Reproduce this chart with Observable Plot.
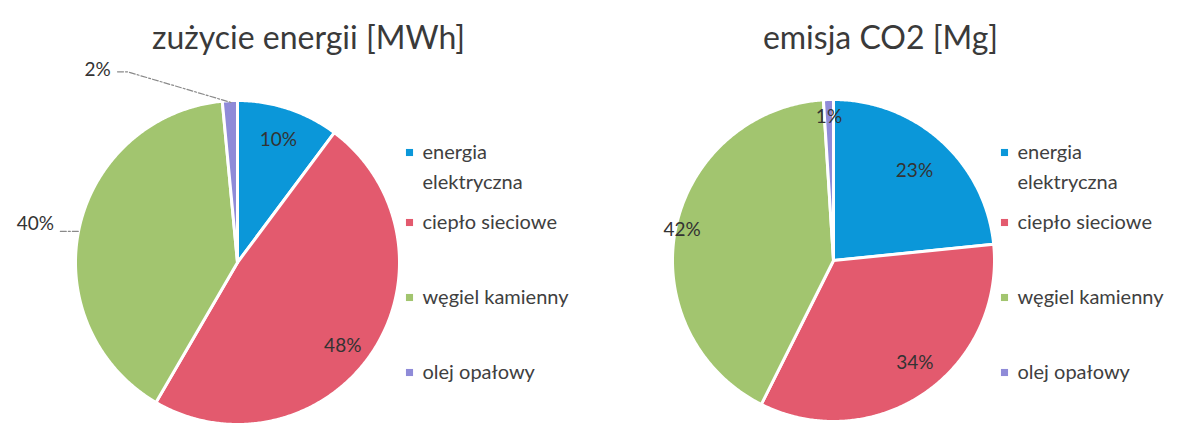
<!DOCTYPE html>
<html>
<head>
<meta charset="utf-8">
<script src="https://cdn.jsdelivr.net/npm/d3@7"></script>
<script src="https://cdn.jsdelivr.net/npm/@observablehq/plot@0.6"></script>
<style>
  html, body { margin: 0; padding: 0; background: #ffffff; }
</style>
</head>
<body>
<div id="chart"></div>
<script>
// ---- data ----
const categories = ["energia elektryczna", "ciepło sieciowe", "węgiel kamienny", "olej opałowy"];
const legendLines = [["energia", "elektryczna"], ["ciepło sieciowe"], ["węgiel kamienny"], ["olej opałowy"]];
const energyShares = [10.2, 48.2, 40.1, 1.5];
const co2Shares = [23.4, 34.0, 41.6, 1.0];
const energyLabels = ["10%", "48%", "40%", "2%"];
const co2Labels = ["23%", "34%", "42%", "1%"];
const titles = ["zużycie energii [MWh]", "emisja CO2 [Mg]"];
const colors = ["#0b97d9", "#e35a6e", "#a2c56f", "#8f8bd8"];

// ---- layout ----
const pies = [
  { cx: 237, cy: 262, r: 162, titleX: 308, legendX: 409,
    values: energyShares, labels: energyLabels, title: titles[0],
    labelPos: [{f: 0.80}, {f: 0.83, da: 5}, {f: 1.27, angle: 280.7, outside: true}, {f: 1.47, angle: 324, outside: true, elbow: true}] },
  { cx: 833, cy: 260, r: 161, titleX: 880, legendX: 1004,
    values: co2Shares, labels: co2Labels, title: titles[1],
    labelPos: [{f: 0.75}, {f: 0.81, da: -4}, {f: 0.96}, {f: 0.89, da: 0}] }
];
const legendY = [152, 222, 297, 372];
const lineGap = 30;

const polar = (p, a, rr) => [p.cx + rr * Math.sin(a), p.cy - rr * Math.cos(a)];
const rad = (deg) => deg * Math.PI / 180;

const slicePts = [];
const labelRows = [];
const leaderPts = [];
const legendDots = [];
const legendText = [];
const titleRows = [];

pies.forEach((p, pi) => {
  const arcs = d3.pie().sort(null).value(d => d)(p.values);
  arcs.forEach((a, i) => {
    const key = pi + "-" + i;
    slicePts.push({key, cat: categories[i], x: p.cx, y: p.cy});
    const steps = Math.max(2, Math.ceil((a.endAngle - a.startAngle) / rad(0.5)));
    for (let s = 0; s <= steps; s++) {
      const t = a.startAngle + (a.endAngle - a.startAngle) * s / steps;
      const [x, y] = polar(p, t, p.r);
      slicePts.push({key, cat: categories[i], x, y});
    }
    const mid = (a.startAngle + a.endAngle) / 2;
    const lp = p.labelPos[i];
    const ang = lp.angle !== undefined ? rad(lp.angle) : mid + rad(lp.da || 0);
    const [lx, ly] = polar(p, ang, p.r * lp.f);
    labelRows.push({x: lx, y: ly, text: p.labels[i]});
    if (lp.outside) {
      const k = "L" + key;
      if (lp.elbow) {
        const [ex, ey] = polar(p, mid, p.r);
        leaderPts.push({k, x: lx + 20, y: ly + 2});
        leaderPts.push({k, x: lx + 30, y: ly + 2});
        leaderPts.push({k, x: ex + 2, y: ey + 2});
      } else {
        const yy = ly + 7;
        const ex = p.cx - Math.sqrt(p.r * p.r - (yy - p.cy) * (yy - p.cy));
        leaderPts.push({k, x: lx + 25, y: yy});
        leaderPts.push({k, x: ex, y: yy});
      }
    }
    legendDots.push({x: p.legendX, y: legendY[i], cat: categories[i]});
    legendLines[i].forEach((ln, j) => legendText.push({x: p.legendX + 13, y: legendY[i] + j * lineGap, text: ln}));
  });
  titleRows.push({x: p.titleX, y: 38, text: p.title});
});

const chart = Plot.plot({
  width: 1181,
  height: 425,
  margin: 0,
  x: {domain: [0, 1181], range: [0, 1181], axis: null},
  y: {domain: [0, 425], range: [0, 425], axis: null},
  color: {domain: categories, range: colors},
  style: {fontFamily: "Lato, 'Open Sans', sans-serif", background: "#ffffff"},
  marks: [
    Plot.line(slicePts, {x: "x", y: "y", z: "key", fill: "cat", stroke: "#ffffff", strokeWidth: 3, strokeLinejoin: "round", curve: "linear-closed"}),
    Plot.line(leaderPts, {x: "x", y: "y", z: "k", stroke: "#8a8a8a", strokeWidth: 1.2, strokeDasharray: "6,2,2,2"}),
    Plot.text(labelRows, {x: "x", y: "y", text: "text", fontSize: 19, fill: "#333333", textAnchor: "middle", lineAnchor: "middle"}),
    Plot.dot(legendDots, {x: "x", y: "y", fill: "cat", symbol: "square", r: 4, stroke: null}),
    Plot.text(legendText, {x: "x", y: "y", text: "text", fontSize: 20, fill: "#404040", textAnchor: "start", lineAnchor: "middle"}),
    Plot.text(titleRows, {x: "x", y: "y", text: "text", fontSize: 32, fill: "#3a3a3a", textAnchor: "middle", lineAnchor: "middle"})
  ]
});
document.getElementById("chart").appendChild(chart);
</script>
</body>
</html>
